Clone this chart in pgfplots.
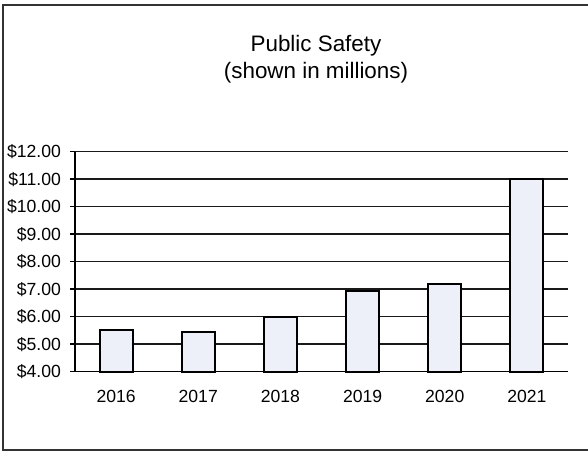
\documentclass[border=0pt]{standalone}
\usepackage{pgfplots}
\pgfplotsset{compat=1.18}
\usepackage{fontspec}
\setmainfont{Liberation Sans}
\definecolor{barfill}{HTML}{EDF0F8}
\begin{document}
\begin{tikzpicture}
\useasboundingbox (-37.5pt,-40.65pt) rectangle (256.5pt,185.85pt);
\draw[line width=0.9pt, black!80] (259pt,183.3pt) -- (-36pt,183.3pt) -- (-36pt,-39.2pt) -- (259pt,-39.2pt);
\begin{axis}[
  at={(0,0)}, anchor=south west,
  scale only axis,
  width=246.5pt, height=110pt,
  xmin=-0.5, xmax=5.5,
  ymin=4, ymax=12,
  axis x line*=bottom, axis y line*=left,
  axis line style={black, line width=0.75pt},
  ytick={4,5,...,12},
  xtick={0,1,2,3,4,5},
  xticklabels={2016,2017,2018,2019,2020,2021},
  major x tick style={draw=none},
  extra x ticks={-0.5,0.5,1.5,2.5,3.5,4.5,5.5},
  extra x tick labels={},
  extra x tick style={major tick length=2.5pt, tick style={black, line width=0.7pt}, tick align=outside, grid=none},
  tick align=outside,
  major tick length=2.5pt,
  ytick style={black, line width=0.7pt},
  ymajorgrids,
  grid style={black!90, line width=0.75pt},
  /pgf/number format/assume math mode=true,
  yticklabel={\$\pgfmathprintnumber[fixed,fixed zerofill,precision=2]{\tick}},
  tick label style={font=\fontsize{8.8}{10}\selectfont, black},
  yticklabel style={xshift=-1pt},
  xticklabel style={yshift=-3pt},
  clip=false,
]
\addplot[ybar, bar width=16.5pt, bar shift=0pt, fill=barfill, draw=black, line width=1pt]
  coordinates {(0,5.52) (1,5.45) (2,6.00) (3,6.92) (4,7.19) (5,11.00)};
\end{axis}
\node[anchor=base, font=\fontsize{11.2}{13}\selectfont] at (120.5pt,160pt) {Public Safety};
\node[anchor=base, font=\fontsize{11.2}{13}\selectfont] at (120.5pt,146.8pt) {(shown in millions)};
\end{tikzpicture}
\end{document}
